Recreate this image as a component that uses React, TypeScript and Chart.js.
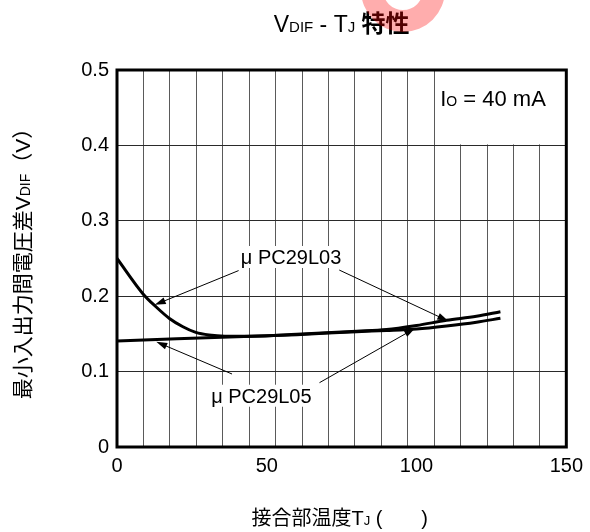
import React, { useEffect, useRef } from 'react';
import { Chart, registerables } from 'chart.js';

Chart.register(...registerables);

const FONT = "'Liberation Sans', Arial, 'Noto Sans CJK JP', sans-serif";

// µPC29L03 curve (junction temperature °C, V_DIF in V)
const tempL03 = [0, 8.7, 13, 17.5, 22, 26.3, 30.7, 36, 45, 60, 80, 90, 100, 110, 120, 128];
const vdifL03 = [0.25, 0.203, 0.186, 0.1705, 0.1595, 0.152, 0.1485, 0.147, 0.147, 0.1495, 0.1535, 0.1558, 0.1612, 0.168, 0.1735, 0.1795];

// µPC29L05 curve
const tempL05 = [0, 20, 40, 60, 80, 90, 100, 110, 120, 128];
const vdifL05 = [0.1405, 0.1435, 0.1463, 0.149, 0.153, 0.1545, 0.1565, 0.1605, 0.1655, 0.1707];

// axis ticks
const xLabelValues = [0, 50, 100, 150];
const xGridDivisions = 17;
const yTickStep = 0.1;

// annotations (data coordinates)
const labelNames = ['μ PC29L03', 'μ PC29L05'];
const labelT = [58.1, 48.2];
const labelV = [0.252, 0.068];
const arrowLabel = [0, 0, 1, 1];
const arrowFromT = [40.6, 74.2, 38.4, 67.6];
const arrowFromV = [0.234, 0.2347, 0.0968, 0.0853];
const arrowToT = [12.6, 110.6, 13.1, 99.5];
const arrowToV = [0.1885, 0.167, 0.1395, 0.1574];

const ioBoxFromT = (150 / xGridDivisions) * 12;
const ioBoxBelowV = 0.4;

type Seg = { t: string; size: number; bold?: boolean };

function drawRich(ctx: CanvasRenderingContext2D, segs: Seg[], x: number, y: number, align: 'center' | 'left') {
  ctx.save();
  ctx.textBaseline = 'alphabetic';
  ctx.textAlign = 'left';
  let total = 0;
  const widths = segs.map((s) => {
    ctx.font = `${s.bold ? 'bold ' : ''}${s.size}px ${FONT}`;
    const w = ctx.measureText(s.t).width;
    total += w;
    return w;
  });
  let cx = align === 'center' ? x - total / 2 : x;
  segs.forEach((s, i) => {
    ctx.font = `${s.bold ? 'bold ' : ''}${s.size}px ${FONT}`;
    ctx.fillText(s.t, cx, y);
    cx += widths[i];
  });
  ctx.restore();
}

function arrow(ctx: CanvasRenderingContext2D, x1: number, y1: number, x2: number, y2: number) {
  const ang = Math.atan2(y2 - y1, x2 - x1);
  const len = 11;
  const hw = 3.5;
  ctx.save();
  ctx.strokeStyle = '#000';
  ctx.fillStyle = '#000';
  ctx.lineWidth = 1;
  ctx.beginPath();
  ctx.moveTo(x1, y1);
  ctx.lineTo(x2 - Math.cos(ang) * len * 0.8, y2 - Math.sin(ang) * len * 0.8);
  ctx.stroke();
  ctx.beginPath();
  ctx.moveTo(x2, y2);
  ctx.lineTo(x2 - Math.cos(ang) * len - Math.sin(ang) * hw, y2 - Math.sin(ang) * len + Math.cos(ang) * hw);
  ctx.lineTo(x2 - Math.cos(ang) * len + Math.sin(ang) * hw, y2 - Math.sin(ang) * len - Math.cos(ang) * hw);
  ctx.closePath();
  ctx.fill();
  ctx.restore();
}

const decor = {
  id: 'decor',
  beforeDatasetsDraw(chart: any) {
    const { ctx, chartArea: a, scales } = chart;
    const x = scales.x;
    const y = scales.y;
    const bx = x.getPixelForValue(ioBoxFromT) + 1;
    const by = y.getPixelForValue(ioBoxBelowV) - 1;
    ctx.save();
    ctx.fillStyle = '#fff';
    ctx.fillRect(bx, a.top, a.right - bx, by - a.top);
    ctx.restore();
  },
  afterDatasetsDraw(chart: any) {
    const { ctx, chartArea: a, scales } = chart;
    const x = scales.x;
    const y = scales.y;
    labelNames.forEach((name, i) => {
      const cx = x.getPixelForValue(labelT[i]);
      const cy = y.getPixelForValue(labelV[i]);
      ctx.save();
      ctx.font = `20px ${FONT}`;
      const w = ctx.measureText(name).width;
      ctx.fillStyle = '#fff';
      ctx.fillRect(cx - w / 2 - 4, cy - 11, w + 8, 22);
      ctx.fillStyle = '#000';
      ctx.textAlign = 'center';
      ctx.textBaseline = 'alphabetic';
      ctx.fillText(name, cx, cy + 7);
      ctx.restore();
    });
    arrowLabel.forEach((_, i) => {
      arrow(
        ctx,
        x.getPixelForValue(arrowFromT[i]),
        y.getPixelForValue(arrowFromV[i]),
        x.getPixelForValue(arrowToT[i]),
        y.getPixelForValue(arrowToV[i])
      );
    });
    ctx.save();
    ctx.fillStyle = '#000';
    drawRich(
      ctx,
      [
        { t: 'I', size: 22 },
        { t: 'O', size: 14 },
        { t: ' = 40 mA', size: 22 },
      ],
      x.getPixelForValue(ioBoxFromT) + 6,
      y.getPixelForValue(0.4) - 39,
      'left'
    );
    ctx.restore();
    ctx.save();
    ctx.strokeStyle = '#000';
    ctx.lineWidth = 3;
    ctx.strokeRect(a.left, a.top, a.right - a.left, a.bottom - a.top);
    ctx.restore();
  },
  afterDraw(chart: any) {
    const { ctx, chartArea: a } = chart;
    const mid = (a.left + a.right) / 2;
    ctx.save();
    ctx.fillStyle = '#000';
    drawRich(
      ctx,
      [
        { t: 'V', size: 23 },
        { t: 'DIF', size: 15 },
        { t: ' - T', size: 23 },
        { t: 'J', size: 15 },
        { t: ' ', size: 23 },
        { t: '特性', size: 24, bold: true },
      ],
      mid,
      32,
      'center'
    );
    drawRich(
      ctx,
      [
        { t: '接合部温度T', size: 20 },
        { t: 'J', size: 13 },
        { t: ' (       )', size: 20 },
      ],
      mid - 2,
      525,
      'center'
    );
    ctx.translate(30, (a.top + a.bottom) / 2);
    ctx.rotate(-Math.PI / 2);
    drawRich(
      ctx,
      [
        { t: '最小入出力間電圧差V', size: 21 },
        { t: 'DIF', size: 14 },
        { t: '（V）', size: 21 },
      ],
      0,
      0,
      'center'
    );
    ctx.restore();
    // watermark
    ctx.save();
    ctx.fillStyle = 'rgba(255,0,0,0.32)';
    ctx.beginPath();
    ctx.arc(403, -10, 42, 0, Math.PI, false);
    ctx.arc(403, -10, 20, Math.PI, 0, true);
    ctx.closePath();
    ctx.fill();
    ctx.restore();
  },
};

export default function App() {
  const ref = useRef<HTMLCanvasElement | null>(null);

  useEffect(() => {
    if (!ref.current) return;
    const gridVals = Array.from({ length: xGridDivisions + 1 }, (_, k) => (k * 150) / xGridDivisions);
    const labelOnly = xLabelValues.filter((v) => !gridVals.some((g) => Math.abs(g - v) < 1e-9));
    const allTicks = [...gridVals, ...labelOnly].sort((p, q) => p - q);

    const chart = new Chart(ref.current, {
      type: 'line',
      data: {
        datasets: [
          {
            label: 'μPC29L03',
            data: tempL03.map((t, i) => ({ x: t, y: vdifL03[i] })),
            borderColor: '#000',
            borderWidth: 3,
            pointRadius: 0,
            fill: false,
            cubicInterpolationMode: 'monotone',
          },
          {
            label: 'μPC29L05',
            data: tempL05.map((t, i) => ({ x: t, y: vdifL05[i] })),
            borderColor: '#000',
            borderWidth: 3,
            pointRadius: 0,
            fill: false,
            cubicInterpolationMode: 'monotone',
          },
        ],
      },
      options: {
        responsive: false,
        animation: false,
        layout: { padding: { left: 0, top: 70, right: 19, bottom: 0 } },
        plugins: {
          legend: { display: false },
          tooltip: { enabled: false },
          title: { display: false },
        },
        scales: {
          x: {
            type: 'linear',
            min: 0,
            max: 150,
            afterBuildTicks: (scale: any) => {
              scale.ticks = allTicks.map((v) => ({ value: v }));
            },
            afterFit: (scale: any) => {
              scale.height = 85;
            },
            ticks: {
              autoSkip: false,
              maxRotation: 0,
              minRotation: 0,
              color: '#000',
              padding: 7,
              font: { family: FONT, size: 20 },
              callback: (v: any) => (xLabelValues.includes(Number(v)) ? String(v) : ''),
            },
            grid: {
              drawTicks: false,
              lineWidth: 1,
              color: (c: any) =>
                labelOnly.some((v) => Math.abs(v - c.tick?.value) < 1e-9) ? 'rgba(0,0,0,0)' : '#5a5a5a',
            },
            border: { display: false },
          },
          y: {
            type: 'linear',
            min: 0,
            max: 0.5,
            afterFit: (scale: any) => {
              scale.width = 117;
            },
            ticks: {
              stepSize: yTickStep,
              color: '#000',
              padding: 8,
              font: { family: FONT, size: 20 },
              callback: (v: any) => (Number(v) === 0 ? '0' : Number(v).toFixed(1)),
            },
            grid: { drawTicks: false, lineWidth: 1, color: '#2a2a2a' },
            border: { display: false },
          },
        },
      } as any,
      plugins: [decor],
    });
    return () => chart.destroy();
  }, []);

  return (
    <div style={{ position: 'absolute', left: 0, top: 0, width: 590, height: 532, background: '#fff' }}>
      <canvas ref={ref} width={590} height={532} style={{ display: 'block' }} />
    </div>
  );
}
